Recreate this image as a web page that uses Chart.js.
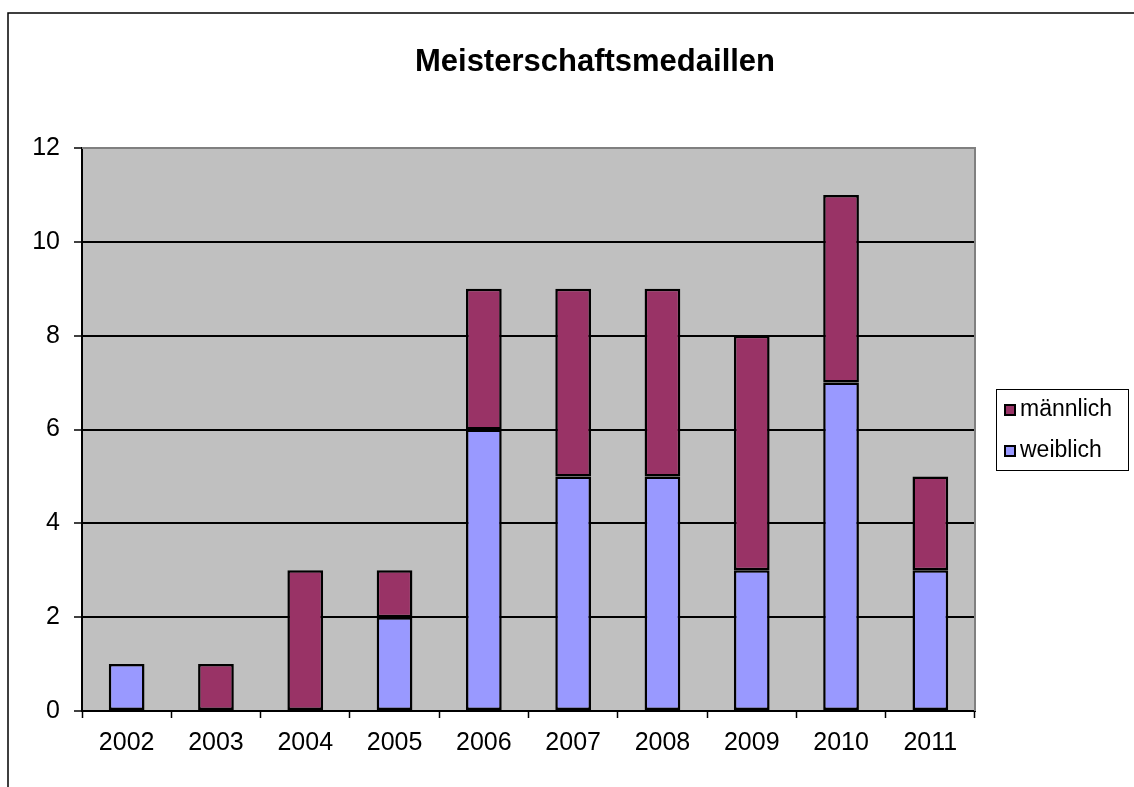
<!DOCTYPE html>
<html>
<head>
<meta charset="utf-8">
<script src="https://cdn.jsdelivr.net/npm/chart.js@4.4.1/dist/chart.umd.min.js"></script>
<style>
html,body{margin:0;padding:0;background:#fff;}
#wrap{position:relative;width:1134px;height:787px;}
</style>
</head>
<body>
<div id="wrap"><canvas id="c" width="1134" height="787"></canvas></div>
<script>
const categories = ['2002','2003','2004','2005','2006','2007','2008','2009','2010','2011'];
const weiblich = [1, 0, 0, 2, 6, 5, 5, 3, 7, 3];
const maennlich = [0, 1, 3, 1, 3, 4, 4, 5, 4, 2];
const seriesNames = ['weiblich', 'männlich'];
const seriesColors = ['#9999FF', '#993366'];
const titleText = 'Meisterschaftsmedaillen';
const yTicks = [0, 2, 4, 6, 8, 10, 12];

const FONT = '"Liberation Sans", Arial, sans-serif';

const decor = {
  id: 'decor',
  beforeDraw(chart) {
    const {ctx, chartArea: a} = chart;
    ctx.save();
    ctx.fillStyle = '#fff';
    ctx.fillRect(0, 0, chart.width, chart.height);
    ctx.fillStyle = '#C0C0C0';
    ctx.fillRect(a.left, a.top, a.right - a.left, a.bottom - a.top);
    ctx.strokeStyle = '#000';
    ctx.lineWidth = 1.5;
    ctx.beginPath();
    ctx.moveTo(8, 790);
    ctx.lineTo(8, 13);
    ctx.lineTo(1140, 13);
    ctx.stroke();
    ctx.restore();
  },
  afterDatasetsDraw(chart) {
    const {ctx, chartArea: a} = chart;
    ctx.save();
    ctx.strokeStyle = '#808080';
    ctx.lineWidth = 2;
    ctx.beginPath();
    ctx.moveTo(a.left, a.top);
    ctx.lineTo(a.right, a.top);
    ctx.lineTo(a.right, a.bottom);
    ctx.stroke();
    ctx.restore();
  },
  afterDraw(chart) {
    const {ctx} = chart;
    ctx.save();
    ctx.fillStyle = '#000';
    ctx.font = 'bold 31px ' + FONT;
    ctx.textAlign = 'center';
    ctx.textBaseline = 'middle';
    ctx.fillText(titleText, 595, 62);
    ctx.strokeStyle = '#000';
    ctx.lineWidth = 1;
    ctx.strokeRect(996.5, 389.5, 132, 81);
    const items = [
      {name: seriesNames[1], color: seriesColors[1], y: 410},
      {name: seriesNames[0], color: seriesColors[0], y: 451}
    ];
    ctx.textAlign = 'left';
    ctx.font = '23px ' + FONT;
    items.forEach(it => {
      ctx.fillStyle = it.color;
      ctx.fillRect(1005, it.y - 5, 10, 10);
      ctx.lineWidth = 2;
      ctx.strokeRect(1005, it.y - 5, 10, 10);
      ctx.fillStyle = '#000';
      ctx.fillText(it.name, 1020, it.y);
    });
    ctx.restore();
  }
};

new Chart(document.getElementById('c'), {
  type: 'bar',
  data: {
    labels: categories,
    datasets: [
      {label: seriesNames[0], data: weiblich, backgroundColor: seriesColors[0], borderColor: '#000', borderWidth: 2.5, borderSkipped: false},
      {label: seriesNames[1], data: maennlich, backgroundColor: seriesColors[1], borderColor: '#000', borderWidth: 2.5, borderSkipped: false}
    ]
  },
  options: {
    responsive: false,
    animation: false,
    devicePixelRatio: 1,
    layout: {padding: {top: 148, right: 159, left: 0, bottom: 0}},
    datasets: {bar: {barPercentage: 0.4, categoryPercentage: 1.0}},
    plugins: {legend: {display: false}, title: {display: false}, tooltip: {enabled: false}},
    scales: {
      x: {
        stacked: true,
        afterFit(s) { s.height = 76; },
        grid: {display: true, drawOnChartArea: false, drawTicks: true, tickLength: 7, tickColor: '#000', tickWidth: 1.5, offset: true},
        border: {display: true, color: '#000', width: 2},
        ticks: {color: '#000', font: {family: FONT, size: 25}, padding: 10, maxRotation: 0}
      },
      y: {
        stacked: true,
        min: 0, max: 12,
        afterFit(s) { s.width = 82; },
        afterBuildTicks(s) { s.ticks = yTicks.map(v => ({value: v})); },
        grid: {
          color: ctx => (ctx.tick && ctx.tick.value === 12) ? '#808080' : '#000',
          lineWidth: 2, drawTicks: true, tickLength: 8, tickColor: '#000', tickWidth: 1.5
        },
        border: {display: true, color: '#000', width: 2},
        ticks: {color: '#000', font: {family: FONT, size: 25}, padding: 14}
      }
    }
  },
  plugins: [decor]
});
</script>
</body>
</html>
